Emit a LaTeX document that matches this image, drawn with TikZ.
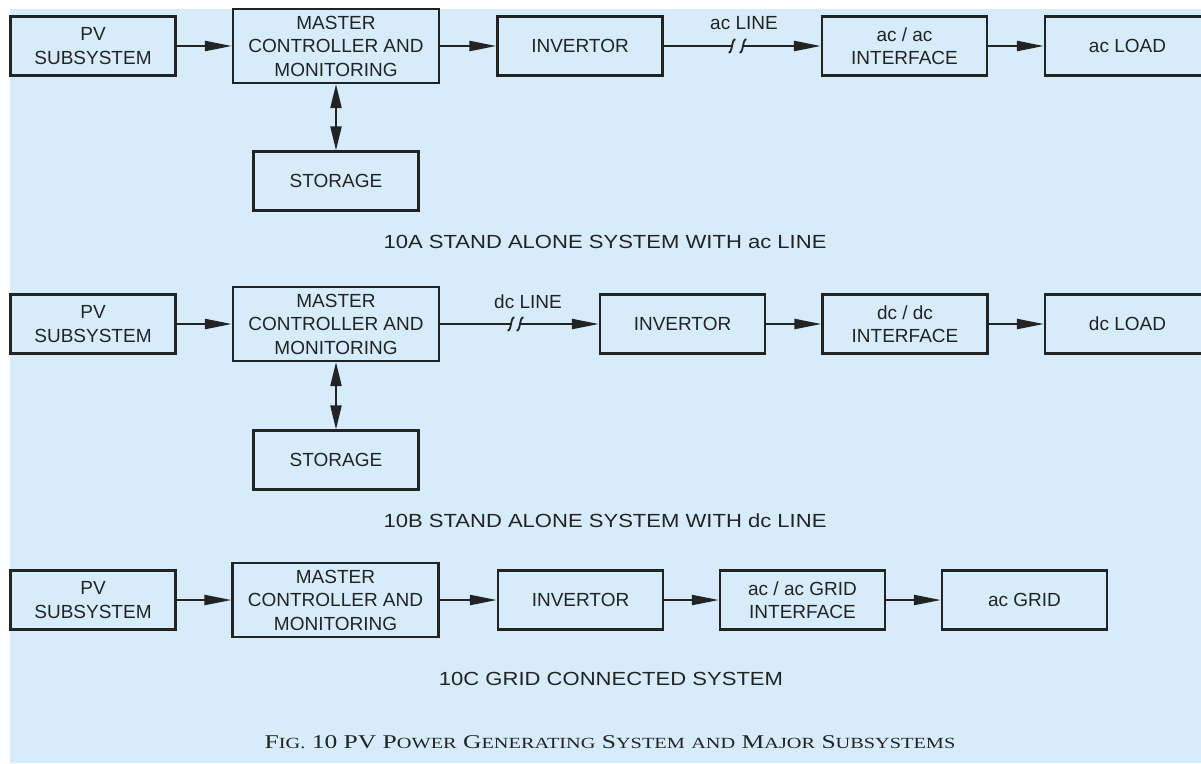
\documentclass[tikz,border=0pt]{standalone}
\usepackage{fontspec}
\setmainfont{Liberation Serif}
\setsansfont{Liberation Sans}
\usetikzlibrary{arrows.meta}
\definecolor{bgblue}{RGB}{214,236,250}
\definecolor{ink}{RGB}{35,35,35}
\newcommand{\capsmall}[2]{#1{\fontsize{15.5}{18}\selectfont #2}}
\newcommand{\wide}[2]{\scalebox{#1}[1]{#2}}

\begin{document}
\begin{tikzpicture}[x=1pt, y=-1pt,
	every node/.style={font=\sffamily\fontsize{19}{23.5}\selectfont, text=ink},
	blk/.style={draw=ink, line width=2.2pt, minimum width=165pt, minimum height=59pt, align=center, inner sep=0pt},
	mcblk/.style={blk, minimum width=206pt, minimum height=74pt},
	wire/.style={draw=ink, line width=2.2pt},
	flow/.style={wire, -{Triangle[length=27pt, width=10pt]}},
	both/.style={wire, {Triangle[length=24pt, width=11pt]}-{Triangle[length=24pt, width=11pt]}},
	cut/.pic={\draw[ink, line width=1.8pt] (-3.5,6.5) .. controls (0.5,8) and (-0.5,-8) .. (3.5,-6.5);}]
	\useasboundingbox (0,0) rectangle (1201,763);
	\fill[bgblue] (10,9) rectangle (1201,763);
	% 10A stand alone, ac line
	\node[blk] (pvA) at (93,46) {PV\\SUBSYSTEM};
	\node[mcblk] (mcA) at (336,46) {MASTER\\CONTROLLER AND\\MONITORING};
	\node[blk] (invA) at (580,46) {INVERTOR};
	\node[blk] (ifA) at (904.5,46) {ac / ac\\INTERFACE};
	\node[blk] (loadA) at (1127.5,46) {ac LOAD};
	\node[blk] (stA) at (336,181) {STORAGE};
	\coordinate (cutA1) at (732,46);
	\coordinate (cutA2) at (743,46);
	\node (lineA) at (744,23.5) {ac LINE};
	\draw[flow] (pvA) -- (mcA);
	\draw[flow] (mcA) -- (invA);
	\draw[both] (mcA) -- (stA);
	\draw[wire] (invA) -- (cutA1);
	\draw[flow] (cutA2) -- (ifA);
	\pic at (cutA1) {cut};
	\pic at (cutA2) {cut};
	\draw[flow] (ifA) -- (loadA);
	\node (capA) at (605,242) {\wide{1.16}{10A STAND ALONE SYSTEM WITH ac LINE}};
	% 10B stand alone, dc line
	\node[blk] (pvB) at (93,324) {PV\\SUBSYSTEM};
	\node[mcblk] (mcB) at (336,324) {MASTER\\CONTROLLER AND\\MONITORING};
	\node[blk] (invB) at (682.5,324) {INVERTOR};
	\node[blk] (ifB) at (905,324) {dc / dc\\INTERFACE};
	\node[blk] (loadB) at (1127.5,324) {dc LOAD};
	\node[blk] (stB) at (336,460) {STORAGE};
	\coordinate (cutB1) at (511,324);
	\coordinate (cutB2) at (520,324);
	\node (lineB) at (528,302) {dc LINE};
	\draw[flow] (pvB) -- (mcB);
	\draw[both] (mcB) -- (stB);
	\draw[wire] (mcB) -- (cutB1);
	\draw[flow] (cutB2) -- (invB);
	\pic at (cutB1) {cut};
	\pic at (cutB2) {cut};
	\draw[flow] (invB) -- (ifB);
	\draw[flow] (ifB) -- (loadB);
	\node (capB) at (605,521) {\wide{1.16}{10B STAND ALONE SYSTEM WITH dc LINE}};
	% 10C grid connected
	\node[blk] (pvC) at (93,600) {PV\\SUBSYSTEM};
	\node[mcblk] (mcC) at (335.5,600) {MASTER\\CONTROLLER AND\\MONITORING};
	\node[blk] (invC) at (580.5,600) {INVERTOR};
	\node[blk] (ifC) at (802.5,600) {ac / ac GRID\\INTERFACE};
	\node[blk] (gridC) at (1024.5,600) {ac GRID};
	\draw[flow] (pvC) -- (mcC);
	\draw[flow] (mcC) -- (invC);
	\draw[flow] (invC) -- (ifC);
	\draw[flow] (ifC) -- (gridC);
	\node (capC) at (611,678.5) {\wide{1.16}{10C GRID CONNECTED SYSTEM}};
	\node[font=\rmfamily\fontsize{19.5}{22}\selectfont, anchor=base] (fig) at (610,748) {\wide{1.31}{\capsmall{F}{IG.} 10 PV \capsmall{P}{OWER} \capsmall{G}{ENERATING} \capsmall{S}{YSTEM} \capsmall{}{AND} \capsmall{M}{AJOR} \capsmall{S}{UBSYSTEMS}}};
\end{tikzpicture}
\end{document}
